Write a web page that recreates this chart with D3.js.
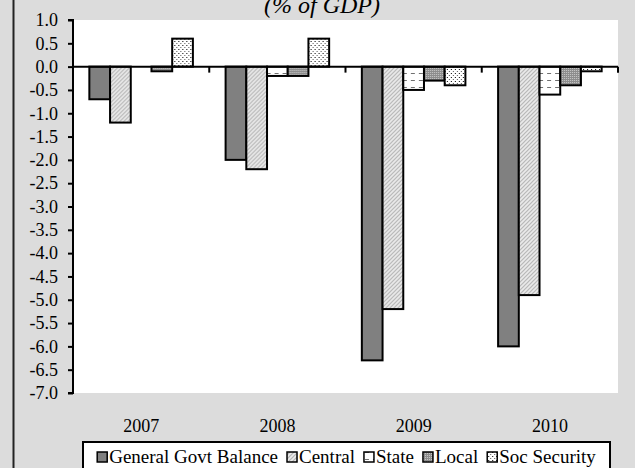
<!DOCTYPE html>
<html>
<head>
<meta charset="utf-8">
<script src="https://cdn.jsdelivr.net/npm/d3@7"></script>
<style>
  html, body { margin: 0; padding: 0; background: #dcdcdc; }
  svg { display: block; }
  text { font-family: "Liberation Serif", "Times New Roman", serif; fill: #000; }
</style>
</head>
<body>
<svg id="chart" width="635" height="468"></svg>
<script>
// ---- data ----
const years = ["2007", "2008", "2009", "2010"];
const seriesNames = ["General Govt Balance", "Central", "State", "Local", "Soc Security"];
const generalGovt = [-0.7, -2.0, -6.3, -6.0];
const central     = [-1.2, -2.2, -5.2, -4.9];
const state       = [0.0, -0.2, -0.5, -0.6];
const local       = [-0.1, -0.2, -0.3, -0.4];
const socSecurity = [0.6, 0.6, -0.4, -0.1];
const yTicks = [1.0, 0.5, 0.0, -0.5, -1.0, -1.5, -2.0, -2.5, -3.0, -3.5, -4.0, -4.5, -5.0, -5.5, -6.0, -6.5, -7.0];
const titleText = "(% of GDP)";

const seriesValues = [generalGovt, central, state, local, socSecurity];
const patternIds = ["pGen", "pCen", "pSta", "pLoc", "pSoc"];

const svg = d3.select("#chart");
const W = 635, H = 468;

// background
svg.append("rect").attr("x", 0).attr("y", 0).attr("width", W).attr("height", H).attr("fill", "#dcdcdc");
svg.append("line").attr("x1", 13.5).attr("x2", 13.5).attr("y1", 0).attr("y2", H)
  .attr("stroke", "#222").attr("stroke-width", 2);

// patterns
const defs = svg.append("defs");
{
  const p = defs.append("pattern").attr("id", "pGen").attr("patternUnits", "userSpaceOnUse").attr("width", 4).attr("height", 4);
  p.append("rect").attr("width", 4).attr("height", 4).attr("fill", "#808080");
}
{
  const p = defs.append("pattern").attr("id", "pCen").attr("patternUnits", "userSpaceOnUse").attr("width", 4).attr("height", 4);
  p.append("rect").attr("width", 4).attr("height", 4).attr("fill", "#ececec");
  p.append("path").attr("d", "M-1,1 L1,-1 M0,4 L4,0 M3,5 L5,3").attr("stroke", "#b4b4b4").attr("stroke-width", 1.2);
}
{
  const p = defs.append("pattern").attr("id", "pSta").attr("patternUnits", "userSpaceOnUse").attr("width", 8).attr("height", 7);
  p.append("rect").attr("width", 8).attr("height", 7).attr("fill", "#ffffff");
  p.append("rect").attr("x", 1).attr("y", 3).attr("width", 4).attr("height", 1).attr("fill", "#707070");
}
{
  const p = defs.append("pattern").attr("id", "pLoc").attr("patternUnits", "userSpaceOnUse").attr("width", 2).attr("height", 2);
  p.append("rect").attr("width", 2).attr("height", 2).attr("fill", "#8c8c8c");
  p.append("rect").attr("x", 0).attr("y", 0).attr("width", 1).attr("height", 1).attr("fill", "#c8c8c8");
}
{
  const p = defs.append("pattern").attr("id", "pSoc").attr("patternUnits", "userSpaceOnUse").attr("width", 4).attr("height", 4);
  p.append("rect").attr("width", 4).attr("height", 4).attr("fill", "#ffffff");
  p.append("rect").attr("x", 1).attr("y", 1).attr("width", 1).attr("height", 1).attr("fill", "#000");
  p.append("rect").attr("x", 3).attr("y", 3).attr("width", 1).attr("height", 1).attr("fill", "#555");
}

// plot area
const plot = { left: 73, right: 618, top: 20, bottom: 393 };
svg.append("rect").attr("x", plot.left).attr("y", plot.top)
  .attr("width", plot.right - plot.left).attr("height", plot.bottom - plot.top).attr("fill", "#fff");

const y = d3.scaleLinear().domain([-7, 1]).range([plot.bottom, plot.top]);
const x0 = d3.scaleBand().domain(years).range([plot.left, plot.right]).paddingInner(0.24).paddingOuter(0.12);
const x1 = d3.scaleBand().domain(seriesNames).range([0, x0.bandwidth()]).padding(0);
const step = x0.step();

// bars
years.forEach((yr, i) => {
  const g = svg.append("g").attr("transform", `translate(${x0(yr)},0)`);
  g.selectAll("rect")
    .data(seriesNames.map((s, k) => ({ s, k, v: seriesValues[k][i] })).filter(d => d.v !== 0))
    .join("rect")
    .attr("x", d => x1(d.s))
    .attr("width", x1.bandwidth())
    .attr("y", d => y(Math.max(0, d.v)))
    .attr("height", d => Math.abs(y(d.v) - y(0)))
    .attr("fill", d => `url(#${patternIds[d.k]})`)
    .attr("stroke", "#000").attr("stroke-width", 2);
});

// y axis
const fmt = d => d3.format(".1f")(d).replace("\u2212", "-");
const yAxis = d3.axisLeft(y).tickValues(yTicks).tickFormat(fmt).tickSize(5).tickPadding(10);
const ya = svg.append("g").attr("transform", `translate(${plot.left},0)`).call(yAxis);
ya.attr("font-family", null).attr("font-size", null);
ya.select(".domain").attr("stroke", "#000").attr("stroke-width", 2).attr("d", `M-5,${plot.top}H0V${plot.bottom}H-5`);
ya.selectAll(".tick line").attr("stroke", "#000").attr("stroke-width", 2);
ya.selectAll(".tick text").style("font-size", "18px");

// zero axis with category tick marks
svg.append("line").attr("x1", plot.left).attr("x2", plot.right).attr("y1", y(0)).attr("y2", y(0))
  .attr("stroke", "#000").attr("stroke-width", 2);
const boundaries = years.map((yr, i) => plot.left + step * (i + 1));
svg.selectAll(".ctick").data(boundaries).join("line")
  .attr("x1", d => d).attr("x2", d => d).attr("y1", y(0)).attr("y2", y(0) + 6)
  .attr("stroke", "#000").attr("stroke-width", 2);

// x labels
svg.selectAll(".xlab").data(years).join("text")
  .attr("x", d => x0(d) + x0.bandwidth() / 2).attr("y", 432)
  .attr("text-anchor", "middle").style("font-size", "18px").text(d => d);

// title
svg.append("text").attr("x", 322).attr("y", 13).attr("text-anchor", "middle")
  .style("font-size", "24px").style("font-style", "italic").text(titleText);

// legend
const leg = svg.append("g");
const legBox = leg.append("rect").attr("fill", "#fff").attr("stroke", "#000").attr("stroke-width", 2);
let cx = 0;
const items = leg.append("g");
seriesNames.forEach((s, k) => {
  const it = items.append("g").attr("transform", `translate(${cx},0)`);
  it.append("rect").attr("x", 0).attr("y", -11).attr("width", 10).attr("height", 10)
    .attr("fill", `url(#${patternIds[k]})`).attr("stroke", "#000").attr("stroke-width", 1.5);
  const t = it.append("text").attr("x", 12).attr("y", 0).style("font-size", "19px").text(s);
  const w = t.node().getComputedTextLength();
  cx += 12 + w + 9;
});
const totalW = cx - 9;
const legLeft = 83, legRight = 610;
items.attr("transform", `translate(${(legLeft + legRight) / 2 - totalW / 2},463)`);
legBox.attr("x", legLeft).attr("y", 442).attr("width", legRight - legLeft).attr("height", 30);
</script>
</body>
</html>
